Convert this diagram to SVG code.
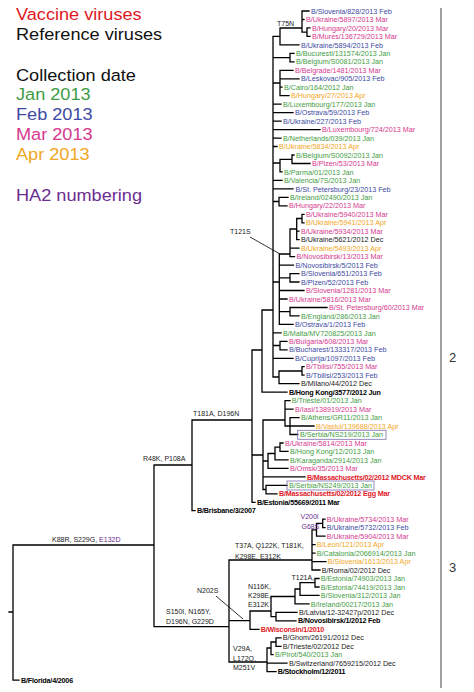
<svg xmlns="http://www.w3.org/2000/svg" width="474" height="692" viewBox="0 0 474 692">
<style>
text{font-family:"Liberation Sans",Arial,sans-serif}
.t{font-size:7.2px}
.b{font-weight:bold;letter-spacing:-0.2px}
.jan{fill:#3f9c44}.feb{fill:#3d4aa3}.mar{fill:#d6388e}.apr{fill:#f2a623}.dec{fill:#1a1a1a}
.ref{fill:#000;font-weight:bold;letter-spacing:-0.2px}.vac{fill:#e0191f;font-weight:bold;letter-spacing:-0.2px}
.mut{font-size:7px;fill:#1a1a1a}.ha2{fill:#6b2d90}
.lg{font-size:16.5px}
.tree{fill:none;stroke:#000;stroke-width:1.3;stroke-linecap:square}
.ptr{fill:none;stroke:#000;stroke-width:0.8}
.box{fill:none;stroke:#7a6fb0;stroke-width:0.8}
</style>
<g id="legend" transform="translate(16,0) scale(1.1,1)">
<text class="lg" x="0" y="20.5" fill="#e0191f">Vaccine viruses</text>
<text class="lg" x="0" y="40" fill="#111">Reference viruses</text>
<text class="lg" x="0" y="81" fill="#111">Collection date</text>
<text class="lg jan" x="0" y="100.5">Jan 2013</text>
<text class="lg feb" x="0" y="120.5">Feb 2013</text>
<text class="lg mar" x="0" y="140.5">Mar 2013</text>
<text class="lg apr" x="0" y="160.5">Apr 2013</text>
<text class="lg ha2" x="0" y="201">HA2 numbering</text>
</g>
<g id="connectors">
<path class="tree" d="M9,612H13 M13,545V680.1 M13,680.1H19 M13,545H154
M154,465V626.7 M154,465H192 M154,626.7H229
M192,420V510.7 M192,420H252 M192,510.7H195
M252,350V502.3 M252,350H262 M252,455H263 M252,502.3H255
M262,310V392.2 M262,310H273 M262,392.2H287
M273,36.4V377
M273,36.4H280 M273,57.6H290 M273,83H280 M273,104.2H281 M273,112.6H293 M273,121.1H281 M273,129.6H320 M273,138.1H281 M273,146.5H277 M273,163H280 M273,180.4H282 M273,188.9H293 M273,201.5H279 M273,282H279.3 M273,332.9H281 M273,345.5H280 M273,358.3H293 M273,377H279
M280,28V44.9 M280,28H302 M280,44.9H299
M302,11V32.2 M302,11H309 M302,19.5H304 M302,32.2H307
M307,27.9V36.4 M307,27.9H310 M307,36.4H310
M290,53.4V61.8 M290,53.4H294 M290,61.8H294
M280,70.3V95.7 M280,70.3H293 M280,78.8H299 M280,87.2H282 M280,95.7H289
M280,159.3V171.9 M280,159.3H292 M280,171.9H282
M292,155V163.5 M292,155H294 M292,163.5H310
M279,197.3V205.8 M279,197.3H288 M279,205.8H287
M279.3,254V324.4 M279.3,254H290 M279.3,265.1H293.5 M279.3,277.8H290 M279.3,290.5H304 M279.3,299H287 M279.3,311.7H290 M279.3,324.4H293
M290,229V256.6 M290,229H296.7 M290,248.2H299 M290,256.6H294.5
M296.7,218.5V239.7 M296.7,218.5H302 M296.7,231.2H299 M296.7,239.7H299
M302,214.3V222.8 M302,214.3H304 M302,222.8H304
M290,273.6V282 M290,273.6H299 M290,282H299
M290,307.5V315.9 M290,307.5H327 M290,315.9H299
M280,341.3V349.8 M280,341.3H287 M280,349.8H287
M279,371V383.7 M279,371H302 M279,383.7H299
M302,366.7V375.2 M302,366.7H304 M302,375.2H304
M263,420V489.5 M263,420H285 M263,461H268 M263,476.9H305 M263,489.5H266
M285,400.6V426 M285,400.6H290 M285,409.1H293 M285,426H290
M290,417.6V434.5 M290,417.6H299 M290,426H314 M290,434.5H297.7
M268,453.5V468.4 M268,453.5H275 M268,468.4H288
M275,447.2V459.9 M275,447.2H280 M275,459.9H288
M280,443V451.4 M280,443H283 M280,451.4H288
M266,485.3V493.8 M266,485.3H287 M266,493.8H277
M229,560V662 M229,560H312 M229,620.7H250 M229,662H267
M312,529.8V570 M312,529.8H316.5 M312,544.6H315 M312,553.1H315 M312,561.6H326 M312,570H320
M316.5,523.4V536.1 M316.5,523.4H322.7 M316.5,536.1H325
M322.7,519.2V527.7 M322.7,519.2H325 M322.7,527.7H325
M250,611V629.3 M250,611H271 M250,629.3H259
M271,596.5V616.6 M271,596.5H295 M271,616.6H276
M295,589V603.9 M295,589H300 M295,603.9H309
M300,582.7V595.4 M300,582.7H315 M300,595.4H319
M315,578.5V587 M315,578.5H319 M315,587H319
M276,612.4V620.8 M276,612.4H297 M276,620.8H296
M267,648V671.7 M267,648H271 M267,663.2H287 M267,671.7H276
M271,642V654.7 M271,642H276 M271,654.7H273
M276,637.8V646.3 M276,637.8H281 M276,646.3H281"/>
<path class="ptr" d="M250,237L280,254 M216,596L243,619"/>
</g>
<g id="mutations">
<text class="mut" x="277" y="25.5">T75N</text>
<text class="mut" x="230" y="234">T121S</text>
<text class="mut" x="193" y="416">T181A, D196N</text>
<text class="mut" x="143" y="461">R48K, P108A</text>
<text class="mut" x="52" y="542">K88R, S229G, <tspan class="ha2">E132D</tspan></text>
<text class="mut" x="166" y="613.5">S150I, N165Y,</text>
<text class="mut" x="166" y="624">D196N, G229D</text>
<text class="mut" x="197" y="593">N202S</text>
<text class="mut" x="235" y="547.5">T37A, Q122K, T181K,</text>
<text class="mut" x="235" y="558.5">K298E, E312K</text>
<text class="mut ha2" x="300.5" y="518.5">V200I</text>
<text class="mut ha2" x="301.5" y="528.5">G68S</text>
<text class="mut" x="291.5" y="579.5">T121A,</text>
<text class="mut" x="248" y="588.5">N116K,</text>
<text class="mut" x="248" y="597.5">K298E,</text>
<text class="mut" x="248" y="607">E312K</text>
<text class="mut" x="233" y="650.5">V29A,</text>
<text class="mut" x="233" y="660.5">L172Q,</text>
<text class="mut" x="233" y="670">M251V</text>
</g>
<g id="clades">
<path d="M441,8V688" stroke="#808080" stroke-width="1.5" fill="none"/>
<text x="449" y="362" font-family="DejaVu Sans,sans-serif" font-size="13" fill="#333">2</text>
<text x="449" y="572" font-family="DejaVu Sans,sans-serif" font-size="13" fill="#333">3</text>
</g>
<g id="leaves">
<g id="n00"><text class="t feb" x="311" y="13.6">B/Slovenia/828/2013 Feb</text></g>
<g id="n01"><text class="t mar" x="306" y="22.1">B/Ukraine/5897/2013 Mar</text></g>
<g id="n02"><text class="t mar" x="312" y="30.5">B/Hungary/20/2013 Mar</text></g>
<g id="n03"><text class="t mar" x="312" y="39">B/Mures/136729/2013 Mar</text></g>
<g id="n04"><text class="t feb" x="301" y="47.5">B/Ukraine/5894/2013 Feb</text></g>
<g id="n05"><text class="t jan" x="296" y="56">B/Bucuresti/131574/2013 Jan</text></g>
<g id="n06"><text class="t jan" x="296" y="64.4">B/Belgium/S0081/2013 Jan</text></g>
<g id="n07"><text class="t mar" x="295" y="72.9">B/Belgrade/1481/2013 Mar</text></g>
<g id="n08"><text class="t feb" x="301" y="81.4">B/Leskovac/905/2013 Feb</text></g>
<g id="n09"><text class="t jan" x="284" y="89.8">B/Cairo/164/2012 Jan</text></g>
<g id="n10"><text class="t apr" x="291" y="98.3">B/Hungary/27/2013 Apr</text></g>
<g id="n11"><text class="t jan" x="283" y="106.8">B/Luxembourg/177/2013 Jan</text></g>
<g id="n12"><text class="t feb" x="295" y="115.2">B/Ostrava/59/2013 Feb</text></g>
<g id="n13"><text class="t feb" x="283" y="123.7">B/Ukraine/227/2013 Feb</text></g>
<g id="n14"><text class="t mar" x="322" y="132.2">B/Luxembourg/724/2013 Mar</text></g>
<g id="n15"><text class="t jan" x="283" y="140.7">B/Netherlands/039/2013 Jan</text></g>
<g id="n16"><text class="t apr" x="279" y="149.1">B/Ukraine/5834/2013 Apr</text></g>
<g id="n17"><text class="t jan" x="296" y="157.6">B/Belgium/S0092/2013 Jan</text></g>
<g id="n18"><text class="t mar" x="312" y="166.1">B/Plzen/53/2013 Mar</text></g>
<g id="n19"><text class="t jan" x="284" y="174.5">B/Parma/01/2013 Jan</text></g>
<g id="n20"><text class="t jan" x="284" y="183">B/Valencia/7S/2013 Jan</text></g>
<g id="n21"><text class="t feb" x="295.5" y="191.5">B/St. Petersburg/23/2013 Feb</text></g>
<g id="n22"><text class="t jan" x="290" y="199.9">B/Ireland/02490/2013 Jan</text></g>
<g id="n23"><text class="t mar" x="289" y="208.4">B/Hungary/22/2013 Mar</text></g>
<g id="n24"><text class="t mar" x="306" y="216.9">B/Ukraine/5940/2013 Mar</text></g>
<g id="n25"><text class="t apr" x="306" y="225.4">B/Ukraine/5941/2013 Apr</text></g>
<g id="n26"><text class="t mar" x="301" y="233.8">B/Ukraine/5934/2013 Mar</text></g>
<g id="n27"><text class="t dec" x="301" y="242.3">B/Ukraine/5621/2012 Dec</text></g>
<g id="n28"><text class="t apr" x="301" y="250.8">B/Ukraine/5493/2013 Apr</text></g>
<g id="n29"><text class="t mar" x="296.5" y="259.2">B/Novosibirsk/13/2013 Mar</text></g>
<g id="n30"><text class="t feb" x="295.5" y="267.7">B/Novosibirsk/5/2013 Feb</text></g>
<g id="n31"><text class="t feb" x="301" y="276.2">B/Slovenia/651/2013 Feb</text></g>
<g id="n32"><text class="t feb" x="301" y="284.6">B/Plzen/52/2013 Feb</text></g>
<g id="n33"><text class="t mar" x="306" y="293.1">B/Slovenia/1281/2013 Mar</text></g>
<g id="n34"><text class="t mar" x="289" y="301.6">B/Ukraine/5816/2013 Mar</text></g>
<g id="n35"><text class="t mar" x="329" y="310.1">B/St. Petersburg/60/2013 Mar</text></g>
<g id="n36"><text class="t jan" x="301" y="318.5">B/England/286/2013 Jan</text></g>
<g id="n37"><text class="t feb" x="295" y="327">B/Ostrava/1/2013 Feb</text></g>
<g id="n38"><text class="t jan" x="283" y="335.5">B/Malta/MV720825/2013 Jan</text></g>
<g id="n39"><text class="t mar" x="289" y="343.9">B/Bulgaria/608/2013 Mar</text></g>
<g id="n40"><text class="t feb" x="289" y="352.4">B/Bucharest/133317/2013 Feb</text></g>
<g id="n41"><text class="t feb" x="295" y="360.9">B/Cuprija/1097/2013 Feb</text></g>
<g id="n42"><text class="t mar" x="306" y="369.3">B/Tbilisi/755/2013 Mar</text></g>
<g id="n43"><text class="t feb" x="306" y="377.8">B/Tbilisi/253/2013 Feb</text></g>
<g id="n44"><text class="t dec" x="301" y="386.3">B/Milano/44/2012 Dec</text></g>
<g id="n45"><text class="t ref" x="289" y="394.8">B/Hong Kong/3577/2012 Jun</text></g>
<g id="n46"><text class="t jan" x="291.7" y="403.2">B/Trieste/01/2013 Jan</text></g>
<g id="n47"><text class="t mar" x="295" y="411.7">B/Iasi/138919/2013 Mar</text></g>
<g id="n48"><text class="t jan" x="301" y="420.2">B/Athens/GR11/2013 Jan</text></g>
<g id="n49"><text class="t apr" x="316" y="428.6">B/Vaslui/139688/2013 Apr</text></g>
<g id="n50"><rect class="box" x="297.7" y="430.3" width="88.3" height="9"/><text class="t jan" x="300" y="437.1">B/Serbia/NS219/2013 Jan</text></g>
<g id="n51"><text class="t mar" x="285" y="445.6">B/Ukraine/5814/2013 Mar</text></g>
<g id="n52"><text class="t jan" x="290" y="454">B/Hong Kong/12/2013 Jan</text></g>
<g id="n53"><text class="t jan" x="290" y="462.5">B/Karaganda/2914/2013 Jan</text></g>
<g id="n54"><text class="t mar" x="290" y="471">B/Omsk/35/2013 Mar</text></g>
<g id="n55"><text class="t vac" x="307" y="479.5">B/Massachusetts/02/2012 MDCK Mar</text></g>
<g id="n56"><rect class="box" x="287" y="481" width="87" height="9"/><text class="t jan" x="289" y="487.9">B/Serbia/NS249/2013 Jan</text></g>
<g id="n57"><text class="t vac" x="279" y="496.4">B/Massachusetts/02/2012 Egg Mar</text></g>
<g id="n58"><text class="t ref" x="257" y="504.9">B/Estonia/55669/2011 Mar</text></g>
<g id="n59"><text class="t ref" x="197" y="513.3">B/Brisbane/3/2007</text></g>
<g id="n60"><text class="t mar" x="326.7" y="521.8">B/Ukraine/5734/2013 Mar</text></g>
<g id="n61"><text class="t feb" x="326.7" y="530.3">B/Ukraine/5732/2013 Feb</text></g>
<g id="n62"><text class="t mar" x="326.7" y="538.7">B/Ukraine/5904/2013 Mar</text></g>
<g id="n63"><text class="t apr" x="316.7" y="547.2">B/Leon/121/2013 Apr</text></g>
<g id="n64"><text class="t jan" x="316.7" y="555.7">B/Catalonia/2066914/2013 Jan</text></g>
<g id="n65"><text class="t apr" x="327.7" y="564.2">B/Slovenia/1613/2013 Apr</text></g>
<g id="n66"><text class="t dec" x="321.7" y="572.6">B/Roma/02/2012 Dec</text></g>
<g id="n67"><text class="t jan" x="320.7" y="581.1">B/Estonia/74903/2013 Jan</text></g>
<g id="n68"><text class="t jan" x="320.7" y="589.6">B/Estonia/74419/2013 Jan</text></g>
<g id="n69"><text class="t jan" x="320.7" y="598">B/Slovenia/312/2013 Jan</text></g>
<g id="n70"><text class="t jan" x="310.7" y="606.5">B/Ireland/00217/2013 Jan</text></g>
<g id="n71"><text class="t dec" x="299" y="615">B/Latvia/12-32427p/2012 Dec</text></g>
<g id="n72"><text class="t ref" x="298" y="623.4">B/Novosibirsk/1/2012 Feb</text></g>
<g id="n73"><text class="t vac" x="260.7" y="631.9">B/Wisconsin/1/2010</text></g>
<g id="n74"><text class="t dec" x="282.7" y="640.4">B/Ghom/26191/2012 Dec</text></g>
<g id="n75"><text class="t dec" x="282.7" y="648.9">B/Trieste/02/2012 Dec</text></g>
<g id="n76"><text class="t jan" x="275" y="657.3">B/Pirot/540/2013 Jan</text></g>
<g id="n77"><text class="t dec" x="289" y="665.8">B/Switzerland/7659215/2012 Dec</text></g>
<g id="n78"><text class="t ref" x="277.7" y="674.3">B/Stockholm/12/2011</text></g>
<g id="n79"><text class="t ref" x="21" y="682.7">B/Florida/4/2006</text></g>
</g>
</svg>
